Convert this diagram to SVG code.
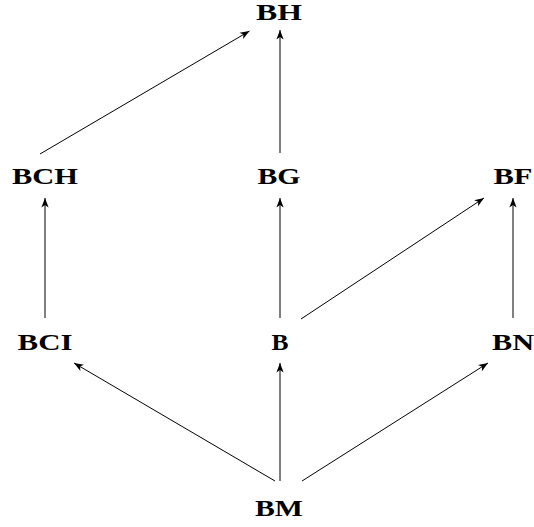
<svg xmlns="http://www.w3.org/2000/svg" width="534" height="527" viewBox="0 0 534 527">
<style>
.lbl{font-family:"Liberation Serif","DejaVu Serif",serif;font-weight:bold;font-size:23.5px;fill:#000;text-anchor:middle}
.e{stroke:#000;stroke-width:1;fill:none;marker-end:url(#ah)}
</style>
<defs>
<marker id="ah" markerUnits="userSpaceOnUse" viewBox="-10 -5 11 10" refX="0" refY="0" markerWidth="11" markerHeight="10" orient="auto">
<path d="M0,0 L-9.5,-3.6 L-7,0 L-9.5,3.6 Z" fill="#000"/>
</marker>
</defs>
<rect width="534" height="527" fill="#fff"/>
<g id="edges">
<line class="e" x1="280" y1="153" x2="280" y2="30"/>
<line class="e" x1="40" y1="154" x2="249.5" y2="31"/>
<line class="e" x1="45" y1="318" x2="45" y2="198"/>
<line class="e" x1="280" y1="318" x2="280" y2="198"/>
<line class="e" x1="301" y1="319" x2="484" y2="198"/>
<line class="e" x1="513" y1="318" x2="513" y2="198"/>
<line class="e" x1="275" y1="481" x2="74" y2="363"/>
<line class="e" x1="280" y1="481" x2="280" y2="363"/>
<line class="e" x1="302" y1="481" x2="488" y2="363"/>
</g>
<g id="BH"><text class="lbl" x="279" y="19.5" textLength="46" lengthAdjust="spacingAndGlyphs">BH</text></g>
<g id="BCH"><text class="lbl" x="45" y="184" textLength="66" lengthAdjust="spacingAndGlyphs">BCH</text></g>
<g id="BG"><text class="lbl" x="279" y="184" textLength="43" lengthAdjust="spacingAndGlyphs">BG</text></g>
<g id="BF"><text class="lbl" x="513" y="184" textLength="39" lengthAdjust="spacingAndGlyphs">BF</text></g>
<g id="BCI"><text class="lbl" x="45" y="350" textLength="55" lengthAdjust="spacingAndGlyphs">BCI</text></g>
<g id="B"><text class="lbl" x="280" y="350" textLength="17" lengthAdjust="spacingAndGlyphs">B</text></g>
<g id="BN"><text class="lbl" x="513" y="350" textLength="42" lengthAdjust="spacingAndGlyphs">BN</text></g>
<g id="BM"><text class="lbl" x="279" y="516" textLength="48" lengthAdjust="spacingAndGlyphs">BM</text></g>
</svg>
